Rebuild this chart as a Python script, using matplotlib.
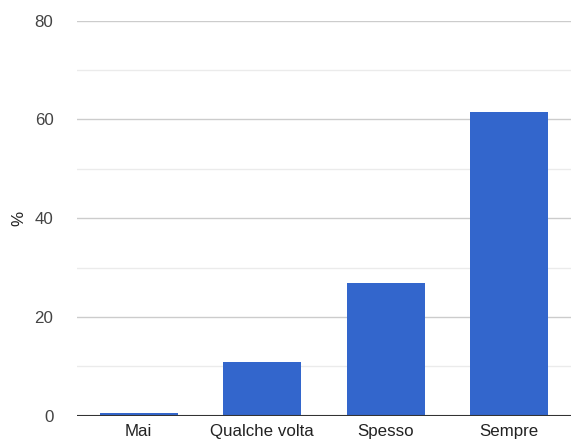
import matplotlib.pyplot as plt
import numpy as np

categories = ["Mai", "Qualche volta", "Spesso", "Sempre"]
values = [0.6, 10.9, 26.9, 61.6]

plt.rcParams['font.family'] = ['Liberation Sans', 'DejaVu Sans']

fig = plt.figure(figsize=(5.71, 4.44), dpi=100)
ax = fig.add_axes([77/571, 28.3/444, 494/571, 395/444])

x = np.arange(len(categories))
ax.bar(x, values, width=0.63, color="#3366cc", zorder=3)

ax.set_xlim(-0.5, len(categories) - 0.5)
ax.set_ylim(0, 80)
ax.set_yticks([0, 20, 40, 60, 80])
ax.set_yticks([10, 30, 50, 70], minor=True)
ax.grid(axis="y", which="major", color="#cccccc", linewidth=1, zorder=0)
ax.grid(axis="y", which="minor", color="#ebebeb", linewidth=1, zorder=0)
ax.axhline(0, color="#333333", linewidth=1.5, zorder=4)

ax.set_xticks(x)
ax.set_xticklabels(categories)
ax.tick_params(axis="both", which="both", length=0, labelsize=12.2, colors="#444444")
ax.tick_params(axis="y", pad=17)
ax.tick_params(axis="x", pad=6, labelcolor="#222222")
for s in ax.spines.values():
    s.set_visible(False)

ax.set_ylabel("%", fontsize=12.2, color="#222222")
ax.yaxis.set_label_coords(-0.103, 0.5)

fig.savefig("out.png", dpi=100)
